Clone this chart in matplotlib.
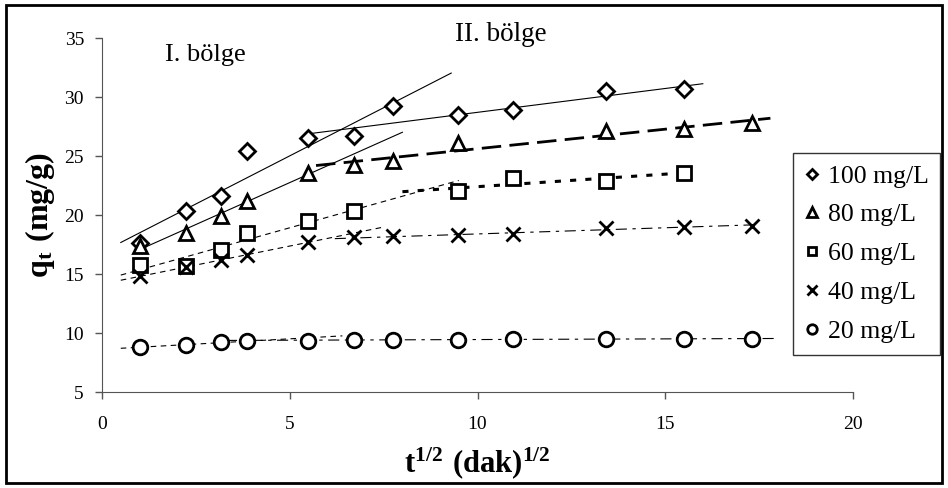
import numpy as np
import matplotlib.pyplot as plt
from matplotlib.patches import Rectangle

plt.rcParams['font.family'] = ['Liberation Serif', 'DejaVu Serif']
plt.rcParams['mathtext.fontset'] = 'custom'
plt.rcParams['mathtext.rm'] = 'Liberation Serif'
plt.rcParams['mathtext.bf'] = 'Liberation Serif:bold'

# square root of time (min^1/2)
t_sqrt = [1.0, 2.24, 3.16, 3.87, 5.48, 6.71, 7.75, 9.49, 10.95, 13.42, 15.49, 17.32]

# q_t values (mg/g), None where no point is shown
q_100 = [17.6, 20.3, 21.6, 25.4, 26.5, 26.7, 29.2, 28.5, 28.9, 30.5, 30.7, None]
q_80 = [17.4, 18.5, 19.9, 21.2, 23.6, 24.2, 24.6, 26.1, None, 27.1, 27.3, 27.8]
q_60 = [15.8, 15.7, 17.0, 18.5, 19.5, 20.3, None, 22.0, 23.1, 22.9, 23.6, None]
q_40 = [14.8, 15.6, 16.2, 16.6, 17.7, 18.1, 18.2, 18.3, 18.4, 18.9, 19.0, 19.1]
q_20 = [8.8, 9.0, 9.2, 9.3, 9.35, 9.4, 9.45, 9.45, 9.5, 9.5, 9.5, 9.5]

labels = ['100 mg/L', '80 mg/L', '60 mg/L', '40 mg/L', '20 mg/L']

# trendline fits: (first index, last index, x start, x end) for region I and II
fits_100 = [(0, 6, 0.5, 9.3), (7, 10, 5.5, 16.0)]
fits_80 = [(0, 4, 1.0, 8.0), (5, 11, 5.7, 17.8)]
fits_60 = [(0, 5, 0.5, 9.5), (7, 10, 8.0, 15.2)]
fits_40 = [(0, 4, 0.5, 7.5), (6, 11, 6.2, 17.5)]
fits_20 = [(0, 3, 0.5, 6.4), (4, 11, 3.3, 18.0)]

series = [
    (q_100, fits_100, 'D', 8.5, [dict(ls='-', lw=0.8), dict(ls='-', lw=0.8)]),
    (q_80, fits_80, '^', 10.5, [dict(ls='-', lw=0.8), dict(ls=(0, (7, 3)), lw=2.0)]),
    (q_60, fits_60, 's', 9.5, [dict(ls=(0, (5, 4)), lw=0.8), dict(ls=(0, (2, 3)), lw=2.2)]),
    (q_40, fits_40, 'x', 10.5, [dict(ls=(0, (5, 4)), lw=0.8), dict(ls=(0, (10, 5, 3, 5)), lw=0.8)]),
    (q_20, fits_20, 'o', 10.5, [dict(ls=(0, (5, 4)), lw=0.8), dict(ls=(0, (10, 5, 3, 5)), lw=0.8)]),
]

fig = plt.figure(figsize=(9.48, 4.88), dpi=100)
ax = fig.add_axes([0.1076, 0.1967, 0.7922, 0.7253])

x_all = np.array(t_sqrt)
for (q, fits, mk, ms, styles), lab in zip(series, labels):
    y = np.array([np.nan if v is None else v for v in q])
    for (i0, i1, xa, xb), st in zip(fits, styles):
        xs = x_all[i0:i1 + 1]
        ys = y[i0:i1 + 1]
        ok = ~np.isnan(ys)
        k, b = np.polyfit(xs[ok], ys[ok], 1)
        xl = np.array([xa, xb])
        ax.plot(xl, k * xl + b, color='black', **st)
    ok = ~np.isnan(y)
    ax.plot(x_all[ok], y[ok], linestyle='none', marker=mk, markersize=ms,
            markerfacecolor='white' if mk != 'x' else 'black',
            markeredgecolor='black', markeredgewidth=2.0, label=lab, zorder=3)

ax.set_xlim(0, 20)
ax.set_ylim(5, 35)
ax.set_xticks([0, 5, 10, 15, 20])
ax.set_yticks([5, 10, 15, 20, 25, 30, 35])
ax.spines['top'].set_visible(False)
ax.spines['right'].set_visible(False)
ax.spines['left'].set_color('#555555')
ax.spines['bottom'].set_color('#555555')
ax.tick_params(direction='out', length=5, width=1, color='#555555', labelsize=14)
ax.tick_params(axis='x', pad=12)
ax.tick_params(axis='y', pad=8)

ax.set_xlabel(r'$\mathbf{t^{1/2}\ (dak)^{1/2}}$', fontsize=22, labelpad=9)
ax.set_ylabel(r'$\mathbf{q_t\ (mg/g)}$', fontsize=23, labelpad=5)

ax.text(1.68, 33.6, 'I. bölge', fontsize=19, va='center')
ax.text(9.4, 35.3, 'II. bölge', fontsize=19.5, va='center')

leg = fig.legend(loc='upper left', bbox_to_anchor=(0.8365, 0.6865), fontsize=18.5,
                 frameon=True, fancybox=False, edgecolor='black', handlelength=0.6,
                 handletextpad=0.3, labelspacing=0.62, borderpad=0.45, borderaxespad=0,
                 markerscale=0.65)
leg.get_frame().set_linewidth(1.0)

fig.patches.append(Rectangle((0.006, 0.01), 0.988, 0.98, transform=fig.transFigure,
                             fill=False, edgecolor='black', linewidth=2))

fig.savefig('out.png', dpi=100)
